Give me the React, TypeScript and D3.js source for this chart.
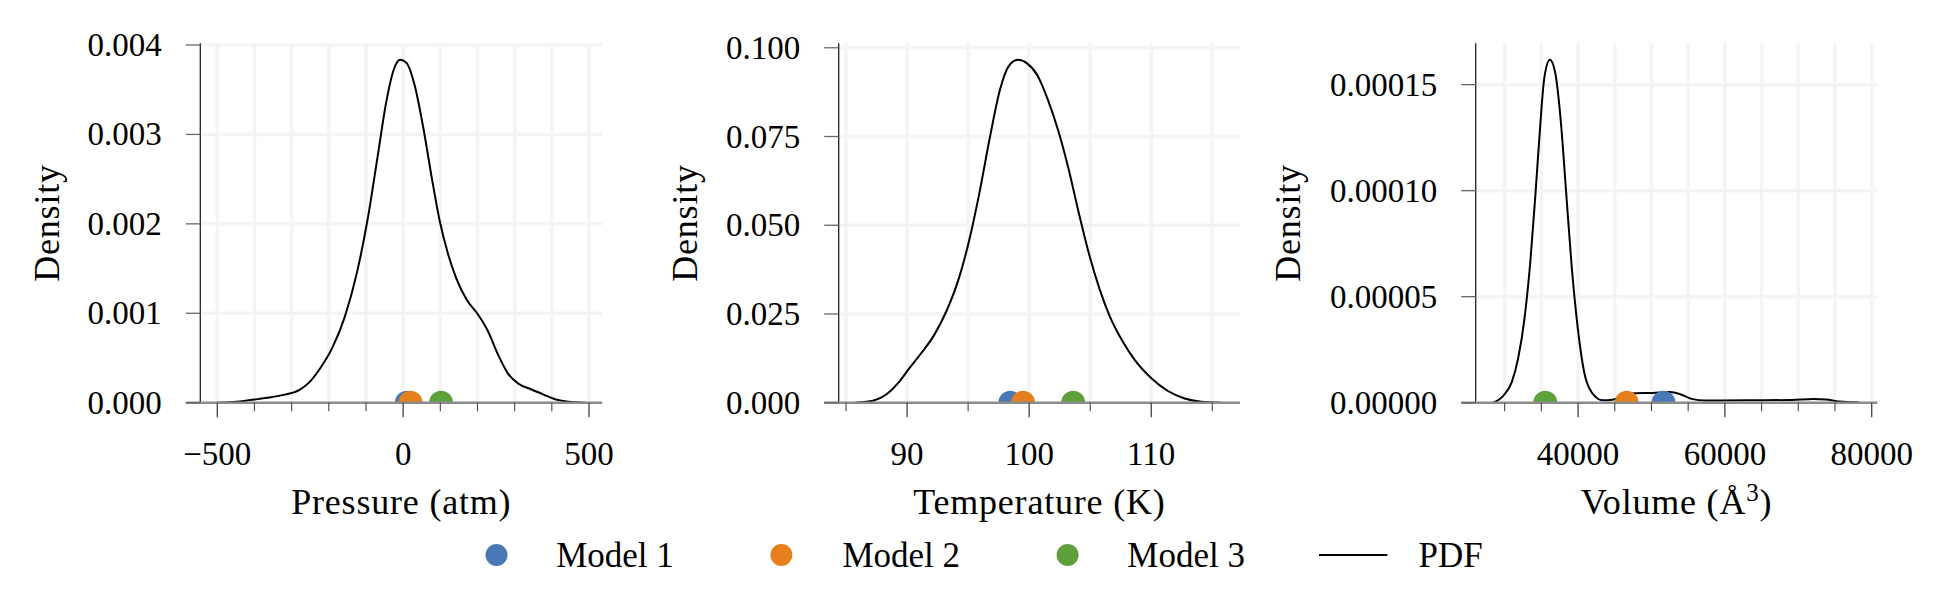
import React from "react";
import * as d3 from "d3";

// ---------- data ----------
const models = ["Model 1", "Model 2", "Model 3"];
const modelColors = ["#4a78b5", "#e6801f", "#5ea03c"];

// Pressure (atm)
const pressureModels = [10, 20, 102];
const pressurePdf: [number, number][] = [
  [-500, 0], [-448, 0.00001], [-392, 0.00004], [-325, 0.000085], [-280, 0.00014],
  [-252, 0.00023], [-224, 0.00038], [-191, 0.00061], [-157, 0.00096], [-124, 0.00146],
  [-96, 0.00204], [-68, 0.00277], [-46, 0.00335], [-24, 0.00374], [-8, 0.003835],
  [9, 0.0038], [31, 0.00355], [54, 0.00308], [76, 0.00254], [98, 0.00204],
  [121, 0.00166], [143, 0.00139], [171, 0.00115], [199, 0.001], [227, 0.00081],
  [255, 0.00054], [283, 0.00032], [311, 0.00021], [344, 0.00015], [378, 0.00009],
  [411, 0.000035], [445, 0.00001], [490, 0],
];

// Temperature (K)
const temperatureModels = [98.46, 99.5, 103.61];
const temperaturePdf: [number, number][] = [
  [85.74, 0], [87.27, 0.0006], [88.29, 0.0023], [89.31, 0.0057], [90.16, 0.0096],
  [91.17, 0.014], [92.19, 0.0189], [93.21, 0.0257], [94.23, 0.0349], [95.08, 0.0456],
  [95.93, 0.0592], [96.78, 0.0747], [97.62, 0.0883], [98.3, 0.0947], [99.08, 0.0966],
  [99.83, 0.0956], [100.68, 0.0922], [101.53, 0.0854], [102.38, 0.0767], [103.22, 0.066],
  [104.07, 0.0534], [104.92, 0.0417], [105.77, 0.032], [106.62, 0.0242], [107.64, 0.0174],
  [108.66, 0.012], [110.01, 0.0069], [111.37, 0.0033], [112.73, 0.0012], [114.09, 0.0003],
  [115.78, 0],
];

// Volume (Å^3)
const volumeModels = [51640, 46620, 35540];
const volumePdf: [number, number][] = [
  [28416, 0], [29776, 3.1e-6], [30958, 9.6e-6], [31844, 2.1e-5], [32731, 4.05e-5],
  [33499, 6.65e-5], [34208, 9.9e-5], [34799, 1.284e-4], [35390, 1.528e-4], [36158, 1.617e-4],
  [36867, 1.56e-4], [37636, 1.333e-4], [38345, 1.007e-4], [39114, 6.5e-5], [40000, 3.4e-5],
  [40827, 1.45e-5], [41891, 4.7e-6], [43369, 1.1e-6], [44846, 1.5e-6], [46324, 3.6e-6],
  [47801, 4.4e-6], [50165, 4.6e-6], [52529, 5.0e-6], [54007, 3.9e-6], [55484, 1.8e-6],
  [57257, 1.0e-6], [63167, 1.1e-6], [69077, 1.3e-6], [72032, 1.8e-6], [73805, 1.5e-6],
  [75578, 0.6e-6], [78238, 0.2e-6],
];

const pressureMajor = [-500, 0, 500];
const pressureMinor = [-400, -300, -200, -100, 100, 200, 300, 400];
const pressureYTicks = [0, 0.001, 0.002, 0.003, 0.004];

const temperatureMajor = [90, 100, 110];
const temperatureMinor = [85, 95, 105, 115];
const temperatureYTicks = [0, 0.025, 0.05, 0.075, 0.1];

const volumeMajor = [40000, 60000, 80000];
const volumeMinor = [30000, 35000, 45000, 50000, 55000, 65000, 70000, 75000];
const volumeYTicks = [0, 0.00005, 0.0001, 0.00015];

// ---------- layout ----------
const FONT = "'Liberation Serif', 'Times New Roman', serif";
const TOP = 43.3;
const BOTTOM = 402.7;
const GRID = "#f4f4f4";

type PanelCfg = {
  id: string;
  xDomain: [number, number];
  xRange: [number, number];
  yMax: number;
  major: number[];
  minor: number[];
  yTicks: number[];
  yFmt: string;
  pdf: [number, number][];
  marks: number[];
  label: React.ReactNode;
  densityX: number;
};

const panels: PanelCfg[] = [
  {
    id: "p1", xDomain: [-545.7, 535.8], xRange: [200.3, 602.3], yMax: 0.004019,
    major: pressureMajor, minor: pressureMinor, yTicks: pressureYTicks, yFmt: ".3f",
    pdf: pressurePdf, marks: pressureModels, label: "Pressure (atm)", densityX: 59,
  },
  {
    id: "p2", xDomain: [84.4, 117.27], xRange: [838.7, 1240], yMax: 0.10126,
    major: temperatureMajor, minor: temperatureMinor, yTicks: temperatureYTicks, yFmt: ".3f",
    pdf: temperaturePdf, marks: temperatureModels, label: "Temperature (K)", densityX: 696.5,
  },
  {
    id: "p3", xDomain: [26056, 80763], xRange: [1475.7, 1877.3], yMax: 0.0001695,
    major: volumeMajor, minor: volumeMinor, yTicks: volumeYTicks, yFmt: ".5f",
    pdf: volumePdf, marks: volumeModels,
    label: (
      <>
        Volume (Å<tspan baselineShift="super" fontSize={25}>3</tspan>)
      </>
    ),
    densityX: 1300,
  },
];

function fmtX(v: number) {
  return v < 0 ? "\u2212" + Math.abs(v) : String(v);
}

function Panel({ cfg }: { cfg: PanelCfg }) {
  const x = d3.scaleLinear().domain(cfg.xDomain).range(cfg.xRange);
  const y = d3.scaleLinear().domain([0, cfg.yMax]).range([BOTTOM, TOP]);
  const line = d3
    .line<[number, number]>()
    .x((d) => x(d[0]))
    .y((d) => y(d[1]))
    .curve(d3.curveMonotoneX);
  const fmt = d3.format(cfg.yFmt);
  const [x0, x1] = cfg.xRange;
  const allX = [...cfg.major, ...cfg.minor];
  return (
    <g>
      <defs>
        <clipPath id={"clip-" + cfg.id}>
          <rect x={x0} y={TOP} width={x1 - x0} height={BOTTOM - TOP} />
        </clipPath>
      </defs>
      {/* grid */}
      {allX.map((v) => (
        <line key={"gx" + v} x1={x(v)} x2={x(v)} y1={TOP} y2={BOTTOM} stroke={GRID} strokeWidth={3.5} />
      ))}
      {cfg.yTicks.filter((v) => v > 0).map((v) => (
        <line key={"gy" + v} x1={x0} x2={x1} y1={y(v)} y2={y(v)} stroke={GRID} strokeWidth={3.5} />
      ))}
      {/* pdf */}
      <path d={line(cfg.pdf) || ""} fill="none" stroke="#000" strokeWidth={2} clipPath={`url(#clip-${cfg.id})`} />
      {/* markers */}
      <g clipPath={`url(#clip-${cfg.id})`}>
        {cfg.marks.map((v, i) => (
          <circle key={i} cx={x(v)} cy={y(0)} r={12} fill={modelColors[i]} />
        ))}
      </g>
      {/* left spine */}
      <line x1={x0} x2={x0} y1={TOP} y2={BOTTOM} stroke="#222" strokeWidth={1.3} />
      {/* baseline */}
      <line x1={x0 - 14.5} x2={x1} y1={BOTTOM} y2={BOTTOM} stroke="#8c8c8c" strokeWidth={2.6} />
      {/* y ticks */}
      {cfg.yTicks.map((v) => (
        <g key={"yt" + v}>
          <line x1={x0 - 14.5} x2={x0} y1={y(v)} y2={y(v)} stroke="#666" strokeWidth={1.3} />
          <text x={x0 - 38.5} y={y(v) + 11} textAnchor="end" fontSize={33} fontFamily={FONT} fill="#000">
            {fmt(v)}
          </text>
        </g>
      ))}
      {/* x ticks */}
      {cfg.major.map((v) => (
        <g key={"xt" + v}>
          <line x1={x(v)} x2={x(v)} y1={BOTTOM} y2={BOTTOM + 14.5} stroke="#444" strokeWidth={1.3} />
          <text x={x(v)} y={465} textAnchor="middle" fontSize={33} fontFamily={FONT} fill="#000">
            {fmtX(v)}
          </text>
        </g>
      ))}
      {cfg.minor.map((v) => (
        <line key={"xm" + v} x1={x(v)} x2={x(v)} y1={BOTTOM} y2={BOTTOM + 8.5} stroke="#444" strokeWidth={1.1} />
      ))}
      {/* labels */}
      <text x={(x0 + x1) / 2} y={514} textAnchor="middle" fontSize={36} letterSpacing={0.8} fontFamily={FONT} fill="#000">
        {cfg.label}
      </text>
      <text
        transform={`translate(${cfg.densityX},${(TOP + BOTTOM) / 2}) rotate(-90)`}
        textAnchor="middle"
        fontSize={36}
        letterSpacing={0.8}
        fontFamily={FONT}
        fill="#000"
      >
        Density
      </text>
    </g>
  );
}

const legendMarkerX = [496.5, 781.4, 1067.6];
const legendTextX = [556.2, 842.4, 1127.3];

export default function App() {
  const legendY = 555;
  return (
    <svg
      width={1951}
      height={602}
      style={{ position: "absolute", left: 0, top: 0, background: "#fff" }}
      xmlns="http://www.w3.org/2000/svg"
    >
      <rect x={0} y={0} width={1951} height={602} fill="#fff" />
      {panels.map((p) => (
        <Panel key={p.id} cfg={p} />
      ))}
      {/* legend */}
      {models.map((m, i) => (
        <g key={m}>
          <circle cx={legendMarkerX[i]} cy={legendY} r={11} fill={modelColors[i]} />
          <text x={legendTextX[i]} y={legendY + 12} fontSize={35} fontFamily={FONT} fill="#000">
            {m}
          </text>
        </g>
      ))}
      <line x1={1319} x2={1387.4} y1={legendY} y2={legendY} stroke="#000" strokeWidth={2} />
      <text x={1418.5} y={legendY + 12} fontSize={35} fontFamily={FONT} fill="#000">
        PDF
      </text>
    </svg>
  );
}
